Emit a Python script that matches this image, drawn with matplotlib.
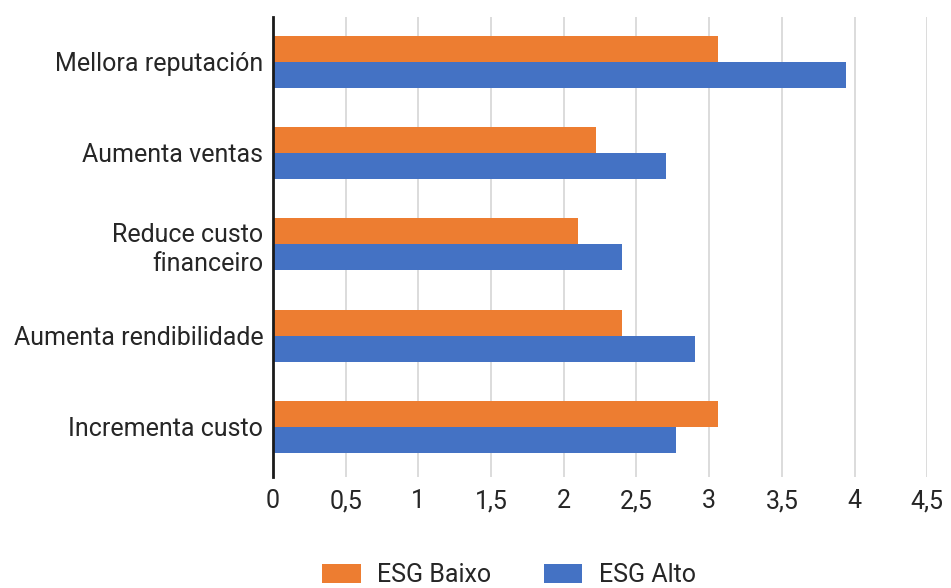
import matplotlib.pyplot as plt
import numpy as np
from matplotlib.ticker import FuncFormatter

categories = ["Mellora reputación", "Aumenta ventas", "Reduce custo\nfinanceiro",
              "Aumenta rendibilidade", "Incrementa custo"]
esg_baixo = [3.06, 2.22, 2.10, 2.40, 3.06]
esg_alto = [3.94, 2.70, 2.40, 2.90, 2.77]

plt.rcParams['font.family'] = ['Roboto', 'DejaVu Sans']
fs = 18

fig = plt.figure(figsize=(9.51, 5.88), dpi=100)
ax = fig.add_axes([0.287, 1 - 477 / 588, 0.688, (477 - 17) / 588])

y = np.arange(len(categories))
h = 0.285
ax.barh(y - h / 2, esg_baixo, height=h, color='#ED7D31', label='ESG Baixo', zorder=3)
ax.barh(y + h / 2, esg_alto, height=h, color='#4472C4', label='ESG Alto', zorder=3)

ax.set_ylim(4.55, -0.49)
ax.set_yticks(y)
ax.set_yticklabels(categories, fontsize=fs, color='#262626', linespacing=1.3)
ax.set_xlim(0, 4.5)
ax.set_xticks(np.arange(0, 4.51, 0.5))
ax.xaxis.set_major_formatter(FuncFormatter(lambda v, p: f"{v:g}".replace('.', ',')))
ax.tick_params(axis='x', labelsize=fs, colors='#262626', length=0, pad=9)
ax.tick_params(axis='y', length=0, pad=7)

ax.grid(axis='x', color='#d9d9d9', linewidth=1.3, zorder=0)
for s in ['top', 'right', 'bottom']:
    ax.spines[s].set_visible(False)
ax.spines['left'].set_linewidth(2)
ax.spines['left'].set_color('#1a1a1a')
ax.spines['left'].set_zorder(4)

fig.legend(loc='center', bbox_to_anchor=(0.535, 0.022), ncol=2, frameon=False,
           fontsize=fs, handlelength=1.55, handleheight=0.8, handletextpad=0.65,
           columnspacing=2.1, labelcolor='#262626', borderpad=0.1)

fig.savefig('out.png', dpi=100)
